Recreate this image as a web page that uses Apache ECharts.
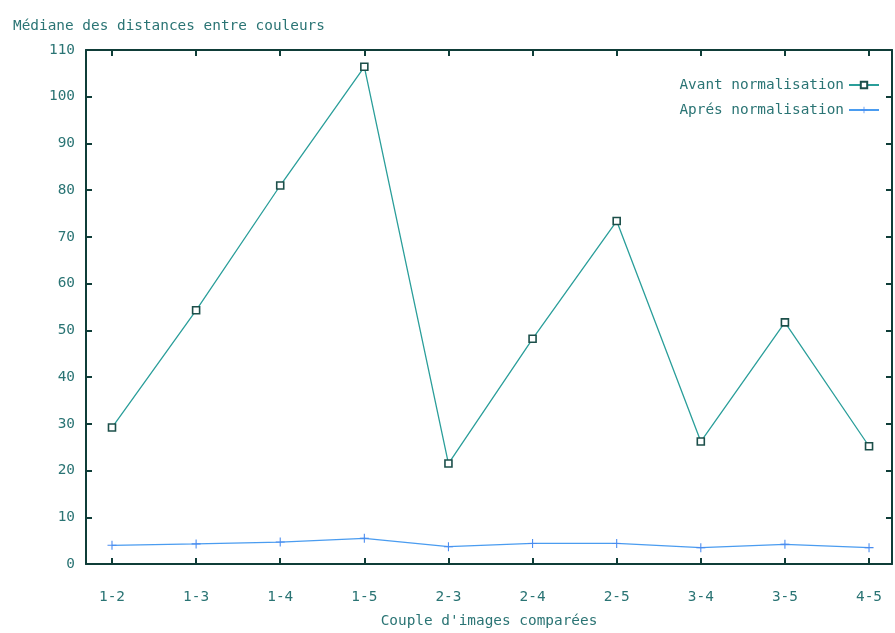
<!DOCTYPE html>
<html><head><meta charset="utf-8">
<script src="https://cdn.jsdelivr.net/npm/echarts@6/dist/echarts.min.js"></script>
<style>html,body{margin:0;padding:0;background:#fff}#c{width:895px;height:633px}</style>
</head><body><div id="c"></div>
<script>
const categories = ['1-2','1-3','1-4','1-5','2-3','2-4','2-5','3-4','3-5','4-5'];
const avant = [29.2, 54.3, 81.0, 106.4, 21.5, 48.2, 73.4, 26.2, 51.7, 25.2];
const apres = [4.0, 4.3, 4.7, 5.5, 3.7, 4.4, 4.4, 3.5, 4.2, 3.5];
const yTicks = [0,10,20,30,40,50,60,70,80,90,100,110];
const titleText = 'Médiane des distances entre couleurs';
const xTitle = "Couple d'images comparées";
const names = ['Avant normalisation', 'Aprés normalisation'];

const font = 'DejaVu Sans Mono';
const fs = 14.4;
const txt = '#2a7474';
const axisCol = '#0f3d38';
const idx = categories.map((c,i)=>i);
const chart = echarts.init(document.getElementById('c'), null, {renderer:'canvas'});
const plus = 'path://M0,4.4H10V5.6H0Z M4.4,0H5.6V10H4.4Z';
const line = {show:true,onZero:false,lineStyle:{color:axisCol,width:2}};
const tick = {show:true,inside:true,length:6,lineStyle:{color:axisCol,width:2}};
chart.setOption({
  animation:false,
  backgroundColor:'#fff',
  title:{text:titleText,left:8,top:14,textStyle:{fontFamily:font,fontSize:fs,fontWeight:'normal',color:txt}},
  grid:{left:86,right:3,top:50,bottom:62},
  legend:{orient:'vertical',right:10,top:73,align:'right',itemWidth:30,itemHeight:8,itemGap:11,
    textStyle:{fontFamily:font,fontSize:fs,color:txt},data:names},
  xAxis:[{type:'value',min:-0.309,max:9.273,position:'bottom',
    name:xTitle,nameLocation:'middle',nameGap:50,
    nameTextStyle:{fontFamily:font,fontSize:fs,color:txt},
    axisLine:line,
    axisTick:Object.assign({customValues:idx},tick),
    axisLabel:{show:true,customValues:idx,margin:26,fontFamily:font,fontSize:fs,color:txt,formatter:v=>categories[Math.round(v)]},
    splitLine:{show:false}},
   {type:'value',min:-0.309,max:9.273,position:'top',
    axisLine:line,
    axisTick:Object.assign({customValues:idx},tick),
    axisLabel:{show:false},splitLine:{show:false}}],
  yAxis:[{type:'value',min:0,max:110,interval:10,position:'left',
    axisLine:line,axisTick:tick,
    axisLabel:{margin:11,fontFamily:font,fontSize:fs,color:txt,formatter:v=>yTicks.includes(v)?String(v):''},
    splitLine:{show:false}},
   {type:'value',min:0,max:110,interval:10,position:'right',
    axisLine:line,axisTick:tick,
    axisLabel:{show:false},splitLine:{show:false}}],
  series:[
    {name:names[0],type:'line',data:avant.map((v,i)=>[i,v]),symbol:'rect',symbolSize:7,
     lineStyle:{color:'#2a9e9a',width:1.3},
     itemStyle:{color:'#fff',borderColor:'#1c4f4a',borderWidth:1.6}},
    {name:names[1],type:'line',data:apres.map((v,i)=>[i,v]),symbol:plus,symbolSize:9,
     lineStyle:{color:'#4a9cf0',width:1.3},
     itemStyle:{color:'#4a8cf0',borderWidth:0}}
  ]
});
</script></body></html>
